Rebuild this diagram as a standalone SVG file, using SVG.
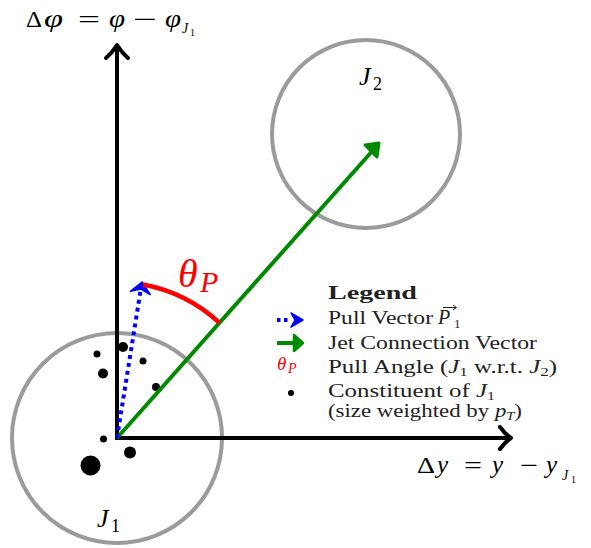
<svg xmlns="http://www.w3.org/2000/svg" width="591" height="548" viewBox="0 0 591 548">
<style>
.jet{fill:none;stroke:#9b9b9b;stroke-width:4}
.ax{fill:none;stroke:#000;stroke-width:4;stroke-linecap:butt}
.ah{fill:none;stroke:#000;stroke-width:4;stroke-linecap:round;stroke-linejoin:round}
.m{font-family:"Liberation Serif","Times New Roman",serif;font-style:italic;fill:#000}
.r{font-family:"Liberation Serif","Times New Roman",serif;fill:#000}
.lg{font-family:"Liberation Serif","Times New Roman",serif;font-size:19px;fill:#222}
.dot{fill:#000}
</style>
<rect width="591" height="548" fill="#fff"/>

<g id="jet1">
<circle class="jet" cx="117" cy="438" r="105"/>
<text class="m" x="97" y="527" font-size="26">J</text>
<text class="r" x="111" y="532" font-size="18">1</text>
</g>
<g id="jet2">
<circle class="jet" cx="366" cy="134" r="94"/>
<text class="m" x="359" y="85" font-size="26">J</text>
<text class="r" x="373" y="90" font-size="18">2</text>
</g>

<g id="constituents">
<circle class="dot" cx="97" cy="354" r="3.5"/>
<circle class="dot" cx="123" cy="347" r="5"/>
<circle class="dot" cx="143" cy="361" r="3.5"/>
<circle class="dot" cx="103" cy="373.5" r="5"/>
<circle class="dot" cx="156" cy="387" r="4"/>
<circle class="dot" cx="103.5" cy="439" r="3.5"/>
<circle class="dot" cx="130" cy="452.5" r="6"/>
<circle class="dot" cx="90.5" cy="465.5" r="10"/>
</g>

<g id="connectors">
<g id="y-axis">
<line class="ax" x1="117" y1="440" x2="117" y2="47"/>
<path class="ah" d="M106,58 Q112,53 117,45 Q122,53 128,58"/>
</g>
<g id="x-axis">
<line class="ax" x1="115" y1="438" x2="509" y2="438"/>
<path class="ah" d="M500,427 Q505,434 511,438 Q505,442 500,449"/>
</g>
<g id="jet-connection">
<line x1="117" y1="438" x2="375" y2="148" stroke="#008a00" stroke-width="4"/>
<path d="M365,145 L379,143 L377,157 Z" fill="#008a00" stroke="#008a00" stroke-width="3" stroke-linejoin="round"/>
</g>
<g id="pull-vector">
<line x1="117" y1="438" x2="140.5" y2="291" stroke="#0000ff" stroke-width="4" stroke-dasharray="4 4"/>
<path d="M142,282 L150.2,294.5 L140.9,289 L130.4,291.3 Z" fill="#0000ff" stroke="#0000ff" stroke-width="1.5" stroke-linejoin="round"/>
</g>
<g id="pull-angle">
<path d="M143,284.5 A155,155 0 0 1 219.5,322.8" fill="none" stroke="#ff0000" stroke-width="4.5"/>
<text class="m" x="178" y="287" font-size="40" style="fill:#ff0000">θ</text>
<text class="m" x="200" y="292" font-size="30" style="fill:#ff0000">P</text>
</g>
</g>

<g id="axis-labels">
<text class="r" x="26" y="27" font-size="23" textLength="16" lengthAdjust="spacingAndGlyphs">Δ</text>
<text class="m" x="44" y="27" font-size="26" textLength="19" lengthAdjust="spacingAndGlyphs">φ</text>
<text class="r" x="78" y="27" font-size="23" textLength="22" lengthAdjust="spacingAndGlyphs">=</text>
<text class="m" x="109" y="27" font-size="26" textLength="16" lengthAdjust="spacingAndGlyphs">φ</text>
<text class="r" x="133" y="27" font-size="23" textLength="24" lengthAdjust="spacingAndGlyphs">−</text>
<text class="m" x="165" y="27" font-size="26" textLength="16" lengthAdjust="spacingAndGlyphs">φ</text>
<text class="m" x="182" y="33" font-size="14">J</text>
<text class="r" x="190" y="36" font-size="10">1</text>

<text class="r" x="417" y="473" font-size="23" textLength="18" lengthAdjust="spacingAndGlyphs">Δ</text>
<text class="m" x="437" y="473" font-size="25">y</text>
<text class="r" x="464" y="473" font-size="23" textLength="18" lengthAdjust="spacingAndGlyphs">=</text>
<text class="m" x="492" y="473" font-size="25">y</text>
<text class="r" x="520" y="473" font-size="23" textLength="18" lengthAdjust="spacingAndGlyphs">−</text>
<text class="m" x="546" y="473" font-size="25">y</text>
<text class="m" x="562" y="480" font-size="14">J</text>
<text class="r" x="571" y="483" font-size="10">1</text>
</g>

<g id="legend">
<text class="lg" x="328" y="299" font-weight="bold" textLength="89" lengthAdjust="spacingAndGlyphs">Legend</text>
<line x1="277" y1="320" x2="291" y2="320" stroke="#0000ff" stroke-width="4" stroke-dasharray="3.5 3.5"/>
<path d="M303,320 L291,313 L295,320 L291,327 Z" fill="#0000ff" stroke="#0000ff" stroke-width="1.5" stroke-linejoin="round"/>
<text class="lg" x="328" y="324" textLength="105" lengthAdjust="spacingAndGlyphs">Pull Vector</text>
<text class="m" x="438" y="324" font-size="20" style="fill:#222">P</text>
<path d="M443,307.5 L456,307.5 M453,305 L456.5,307.5 L453,310" fill="none" stroke="#222" stroke-width="1"/>
<text class="r" x="454" y="328" font-size="13" style="fill:#222">1</text>

<line x1="277" y1="343" x2="298" y2="343" stroke="#008a00" stroke-width="4"/>
<path d="M294,335 L303,343 L294,351 Z" fill="#008a00" stroke="#008a00" stroke-width="2.5" stroke-linejoin="round"/>
<text class="lg" x="328" y="349" textLength="209" lengthAdjust="spacingAndGlyphs">Jet Connection Vector</text>

<text class="m" x="277" y="370" font-size="19" style="fill:#ff0000">θ</text>
<text class="m" x="288" y="373" font-size="14" style="fill:#ff0000">P</text>
<text class="lg" x="328" y="373" textLength="229" lengthAdjust="spacingAndGlyphs"><tspan>Pull Angle (</tspan><tspan font-style="italic">J</tspan><tspan font-size="13" dy="3">1</tspan><tspan dy="-3"> w.r.t. </tspan><tspan font-style="italic">J</tspan><tspan font-size="13" dy="3">2</tspan><tspan dy="-3">)</tspan></text>

<circle class="dot" cx="291" cy="393" r="3"/>
<text class="lg" x="328" y="397" font-size="18" textLength="167" lengthAdjust="spacingAndGlyphs"><tspan>Constituent of </tspan><tspan font-style="italic">J</tspan><tspan font-size="12" dy="3">1</tspan></text>
<text class="lg" x="328" y="417" font-size="18" textLength="194" lengthAdjust="spacingAndGlyphs"><tspan>(size weighted by </tspan><tspan font-style="italic">p</tspan><tspan font-style="italic" font-size="12" dy="3">T</tspan><tspan dy="-3">)</tspan></text>
</g>
</svg>
